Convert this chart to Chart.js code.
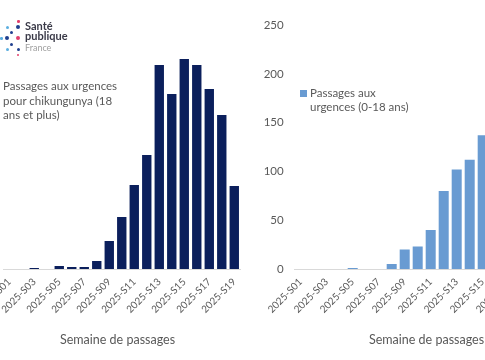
<!DOCTYPE html>
<html>
<head>
<meta charset="utf-8">
<script src="https://cdn.jsdelivr.net/npm/chart.js@4"></script>
<style>
  html, body { margin:0; padding:0; background:#fff; }
  body { width:485px; height:360px; overflow:hidden; position:relative; font-family: Lato, "Open Sans", sans-serif; }
  .box { position:absolute; top:0; height:360px; }
  .txt { position:absolute; color:#595959; white-space:nowrap; }
  .dot { position:absolute; border-radius:50%; }
</style>
</head>
<body>
<script>
// ---- data ----
const weeks = ['2025-S01','2025-S02','2025-S03','2025-S04','2025-S05','2025-S06','2025-S07','2025-S08','2025-S09','2025-S10',
               '2025-S11','2025-S12','2025-S13','2025-S14','2025-S15','2025-S16','2025-S17','2025-S18','2025-S19'];
const adultPassages = [0,0,5,0,15,10,10,39,138,256,413,561,1003,861,1033,1003,885,757,408];
const childPassages = [0,0,0,0,1,0,0,5,20,23,40,80,102,112,137,133,118,100,54];
const childTicks = [0,50,100,150,200,250];
const adultLabel = 'Passages aux urgences pour chikungunya (18 ans et plus)';
const childLabel = 'Passages aux urgences (0-18 ans)';
const xTitle = 'Semaine de passages';
</script>

<div class="box" style="left:-50px;width:300px;"><canvas id="c1"></canvas></div>
<div class="box" style="left:240px;width:320px;"><canvas id="c2"></canvas></div>

<!-- logo -->
<div id="logo"></div>
<div class="txt" style="left:25px;top:21px;font:bold 11px Lato, sans-serif;color:#3a3a48;line-height:10px;">Santé<br>publique</div>
<div class="txt" style="left:25px;top:43px;font:9px Lato, sans-serif;color:#a0a0a0;line-height:10px;">France</div>

<!-- legends -->
<div class="txt" style="left:3px;top:79px;font-size:11.5px;line-height:14.5px;">Passages aux urgences<br>pour chikungunya (18<br>ans et plus)</div>
<div style="position:absolute;left:300px;top:90px;width:6.5px;height:6.5px;background:#699bd2;"></div>
<div class="txt" style="left:310px;top:86px;font-size:11.5px;line-height:14px;">Passages aux<br>urgences (0-18 ans)</div>

<!-- axis titles -->
<div class="txt" style="left:60px;top:332px;font-size:12.5px;">Semaine de passages</div>
<div class="txt" style="left:369px;top:332px;font-size:12.5px;">Semaine de passages</div>

<script>
// logo dots
const dots = [
  [18.3,21.7,2.6,'#e2406e'],[7.3,27.3,3.2,'#5aaee0'],[18.3,27.3,4,'#1f3f8f'],
  [11.7,32.7,3.4,'#1f3f8f'],[1.7,38.3,2.6,'#5aaee0'],[7.3,38.3,4.4,'#1f3f8f'],
  [18.3,38.3,3.8,'#e2406e'],[11.7,44.3,3.4,'#1f3f8f'],[7.3,49.3,3.2,'#5aaee0'],
  [18.3,49.3,3.4,'#1f3f8f'],[18.3,55,2.4,'#e2406e']
];
const logo = document.getElementById('logo');
dots.forEach(d => {
  const e = document.createElement('div');
  e.className = 'dot';
  e.style.left = (d[0]-d[2]/2)+'px'; e.style.top = (d[1]-d[2]/2)+'px';
  e.style.width = d[2]+'px'; e.style.height = d[2]+'px'; e.style.background = d[3];
  logo.appendChild(e);
});

const tickFont = { family: 'Lato', size: 10 };
const gray = '#595959';
function xAxis() {
  return {
    grid: { display:false, drawTicks:false },
    border: { display:true, color:'#d9d9d9', width:1 },
    afterFit: s => { s.height = 91; },
    ticks: {
      autoSkip:false, minRotation:45, maxRotation:45, padding:7,
      color: gray, font: tickFont,
      callback: function(v, i) { return i % 2 === 0 ? this.getLabelForValue(v) : ''; }
    }
  };
}

new Chart(document.getElementById('c1'), {
  type: 'bar',
  data: { labels: weeks, datasets: [{ label: adultLabel, data: adultPassages, backgroundColor:'#0b1f5c',
          categoryPercentage:1, barPercentage:0.75 }] },
  options: {
    responsive:true, maintainAspectRatio:false, animation:false,
    layout: { padding: { top:25, right:9, left:0, bottom:0 } },
    plugins: { legend:{display:false}, tooltip:{enabled:false} },
    scales: {
      x: xAxis(),
      y: { min:0, max:1200, grid:{display:false, drawTicks:false}, border:{display:false},
           ticks:{display:false}, afterFit: s => { s.width = 53; } }
    }
  }
});

new Chart(document.getElementById('c2'), {
  type: 'bar',
  data: { labels: weeks, datasets: [{ label: childLabel, data: childPassages, backgroundColor:'#699bd2',
          categoryPercentage:1, barPercentage:0.77 }] },
  options: {
    responsive:true, maintainAspectRatio:false, animation:false,
    layout: { padding: { top:25, right:18.8, left:0, bottom:0 } },
    plugins: { legend:{display:false}, tooltip:{enabled:false} },
    scales: {
      x: xAxis(),
      y: { min:0, max:childTicks[childTicks.length-1], grid:{display:false, drawTicks:false}, border:{display:false},
           afterBuildTicks: s => { s.ticks = childTicks.map(v => ({value:v})); },
           ticks:{ color:gray, font:{family:'Lato', size:11.5}, padding:10.5 },
           afterFit: s => { s.width = 54.2; } }
    }
  }
});
</script>
</body>
</html>
